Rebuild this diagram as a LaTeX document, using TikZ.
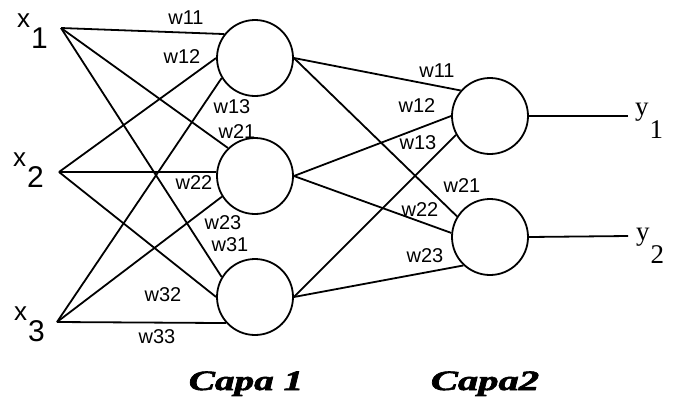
\documentclass[tikz,border=0pt]{standalone}
\usepackage{fontspec}
\usepackage{graphicx}
\setmainfont{Liberation Sans}
\newfontfamily\serifb{Liberation Serif}
\newfontfamily\capafont[BoldItalicFeatures={FakeBold=2}]{Liberation Serif}
\tikzset{
  neuron/.style={draw, circle, line width=1.8pt, minimum size=76pt, inner sep=0pt},
  conn/.style={line width=1.8pt},
  wlab/.style={font=\fontsize{20}{20}\selectfont, inner sep=0pt},
  inlab/.style={font=\fontsize{26}{26}\selectfont, inner sep=0pt, anchor=base west},
  outlab/.style={font=\serifb\fontsize{27}{27}\selectfont, inner sep=0pt, anchor=base west},
  capa/.style={font=\capafont\bfseries\itshape\fontsize{28}{28}\selectfont, inner sep=0pt, anchor=base}
}
\newcommand{\insub}[2]{#1\hspace{1pt}\raisebox{-21pt}{\fontsize{30}{30}\selectfont #2}}
\newcommand{\outsub}[2]{#1\hspace{1pt}\raisebox{-23pt}{#2}}
\begin{document}
\begin{tikzpicture}[x=1pt,y=-1pt]
\useasboundingbox (0,0) rectangle (684,410);
% input points
\coordinate (i1) at (61,28);
\coordinate (i2) at (59,172);
\coordinate (i3) at (57,322);
% input labels
\node[inlab] (lx1) at (17,27) {\insub{x}{1}};
\node[inlab] (lx2) at (13,166) {\insub{x}{2}};
\node[inlab] (lx3) at (14,320) {\insub{x}{3}};
% neurons
\node[neuron] (h1) at (255,58) {};
\node[neuron] (h2) at (255,176) {};
\node[neuron] (h3) at (255,297) {};
\node[neuron] (o1) at (490,116) {};
\node[neuron] (o2) at (490,237) {};
% output ends
\coordinate (e1) at (628,116);
\coordinate (e2) at (628,236);
% layer 1 connections
\draw[conn] (i1) -- (h1.142);
\draw[conn] (i1) -- (h2.134);
\draw[conn] (i1) -- (h3.149);
\draw[conn] (i2) -- (h1.180);
\draw[conn] (i2) -- (h2.174);
\draw[conn] (i2) -- (h3.180);
\draw[conn] (i3) -- (h1.211);
\draw[conn] (i3) -- (h2.212);
\draw[conn] (i3) -- (h3.222);
% layer 2 connections
\draw[conn] (h1.east) -- (o1.139);
\draw[conn] (h1.east) -- (o2.148);
\draw[conn] (h2.east) -- (o1.180);
\draw[conn] (h2.east) -- (o2.174);
\draw[conn] (h3.east) -- (o1.209);
\draw[conn] (h3.east) -- (o2.227);
% outputs
\draw[conn] (o1.east) -- (e1);
\draw[conn] (o2.east) -- (e2);
\node[outlab] (ly1) at (635,115) {\outsub{y}{1}};
\node[outlab] (ly2) at (636,240) {\outsub{y}{2}};
% weight labels layer 1
\node[wlab] (a11) at (186,18) {w11};
\node[wlab] (a12) at (182,57) {w12};
\node[wlab] (a13) at (232,107) {w13};
\node[wlab] (a21) at (237,132) {w21};
\node[wlab] (a22) at (194,183) {w22};
\node[wlab] (a23) at (223,223) {w23};
\node[wlab] (a31) at (230,245) {w31};
\node[wlab] (a32) at (163,295) {w32};
\node[wlab] (a33) at (157,337) {w33};
% weight labels layer 2
\node[wlab] (b11) at (437,71) {w11};
\node[wlab] (b12) at (417,106) {w12};
\node[wlab] (b13) at (418,143) {w13};
\node[wlab] (b21) at (462,186) {w21};
\node[wlab] (b22) at (420,210) {w22};
\node[wlab] (b23) at (425,256) {w23};
% layer titles
\node[capa] (c1) at (246,390) {\scalebox{1.4}[1]{Capa 1}};
\node[capa] (c2) at (485,390) {\scalebox{1.45}[1]{Capa2}};
\end{tikzpicture}
\end{document}
